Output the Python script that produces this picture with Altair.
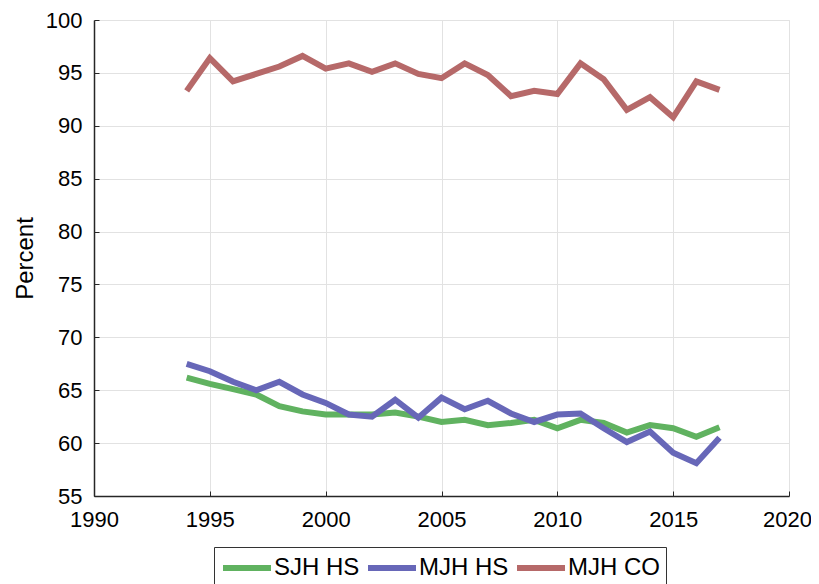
import altair as alt
import pandas as pd

years = list(range(1994, 2018))
sjh_hs = [66.2, 65.6, 65.1, 64.6, 63.5, 63.0, 62.7, 62.7, 62.7, 62.9, 62.5, 62.0,
          62.2, 61.7, 61.9, 62.2, 61.4, 62.2, 61.9, 61.0, 61.7, 61.4, 60.6, 61.5]
mjh_hs = [67.5, 66.8, 65.8, 65.0, 65.8, 64.6, 63.8, 62.7, 62.5, 64.1, 62.4, 64.3,
          63.2, 64.0, 62.8, 62.0, 62.7, 62.8, 61.4, 60.1, 61.1, 59.1, 58.1, 60.5]
mjh_co = [93.3, 96.4, 94.2, 94.9, 95.6, 96.6, 95.4, 95.9, 95.1, 95.9, 94.9, 94.5,
          95.9, 94.8, 92.8, 93.3, 93.0, 95.9, 94.4, 91.5, 92.7, 90.8, 94.2, 93.4]

series_names = ["SJH HS", "MJH HS", "MJH CO"]
colors = ["#60b260", "#6767b8", "#b66969"]
x_ticks = list(range(1990, 2021, 5))
y_ticks = list(range(55, 101, 5))

rows = []
for name, vals in zip(series_names, [sjh_hs, mjh_hs, mjh_co]):
    for yr, v in zip(years, vals):
        rows.append({"Year": yr, "Percent": v, "Series": name})
df = pd.DataFrame(rows)

xscale = alt.Scale(domain=[1990, 2020], nice=False)
yscale = alt.Scale(domain=[55, 100], nice=False, zero=False)
dark = "#262626"
gridc = "#e2e2e2"

lines = alt.Chart(df).mark_line(strokeWidth=6, strokeCap="butt", strokeJoin="miter").encode(
    x=alt.X("Year:Q", scale=xscale,
            axis=alt.Axis(values=x_ticks, format="d", title=None, orient="bottom",
                          grid=True, gridColor=gridc, ticks=False, labelFlush=False,
                          labelOffset={"condition": {"test": "datum.value == 2020", "value": -2},
                                       "value": 0},
                          labelPadding=13, labelFontSize=22, labelColor="black",
                          domainColor=dark, domainWidth=1.5)),
    y=alt.Y("Percent:Q", scale=yscale,
            axis=alt.Axis(values=y_ticks, format="d", title="Percent", orient="left",
                          grid=True, gridColor=gridc, ticks=False, labelFlush=False,
                          labelPadding=12, labelFontSize=22, labelColor="black",
                          domainColor=dark, domainWidth=1.5,
                          titleFontSize=24, titleFontWeight="normal", titleColor="black",
                          titleX=-69, titleY=238, titleAngle=270,
                          titleAlign="center", titleBaseline="middle")),
    color=alt.Color("Series:N", scale=alt.Scale(domain=series_names, range=colors),
                    legend=alt.Legend(title=None, orient="none", legendX=120, legendY=527,
                                      direction="horizontal", symbolType="M-1,0H3",
                                      symbolSize=576, symbolStrokeWidth=6,
                                      symbolFillColor="transparent", gridAlign="none",
                                      labelFontSize=24, labelOffset=24, columnPadding=-4,
                                      padding=6, strokeColor="#333333", fillColor="white",
                                      labelColor="black")),
)

ticks = alt.Chart(df).mark_line(strokeOpacity=0).encode(
    x=alt.X("Year:Q", scale=xscale,
            axis=alt.Axis(values=x_ticks, orient="bottom", offset=-5, tickSize=5,
                          labels=False, domain=False, grid=False, title=None,
                          tickColor=dark, tickWidth=1)),
    y=alt.Y("Percent:Q", scale=yscale,
            axis=alt.Axis(values=y_ticks, orient="left", offset=-5, tickSize=5,
                          labels=False, domain=False, grid=False, title=None,
                          tickColor=dark, tickWidth=1)),
    detail="Series:N",
)

chart = alt.layer(lines, ticks).resolve_axis(
    x="independent", y="independent"
).properties(
    width=695, height=476, autosize="none",
    padding={"left": 86, "top": 12, "right": 22, "bottom": 88},
).configure(font="Liberation Sans").configure_view(stroke=gridc)

chart.save("out.html", embed_options={"renderer": "svg", "actions": False})
